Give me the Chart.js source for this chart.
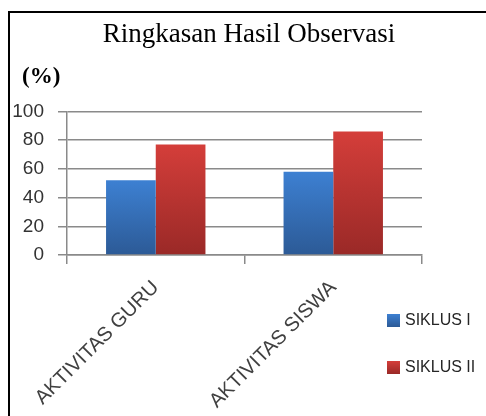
<!DOCTYPE html>
<html>
<head>
<meta charset="utf-8">
<script src="https://cdn.jsdelivr.net/npm/chart.js@4.4.1/dist/chart.umd.min.js"></script>
<style>
  html, body { margin: 0; padding: 0; background: #fff; overflow: hidden; }
  body { width: 486px; height: 416px; position: relative; }
  #frame {
    position: absolute; left: 8px; top: 11px; width: 478px; height: 405px;
    border-left: 2px solid #000; border-top: 2px solid #000; box-sizing: border-box;
  }
  #chart { position: absolute; left: 0; top: 0; }
  #unit { position: absolute; left: 12px; top: 50px; font: bold 23px 'Liberation Serif', serif; color: #000; }
  #legend { position: absolute; left: 377px; top: 297px; margin: 0; padding: 0; list-style: none; }
  #legend li { display: flex; align-items: center; height: 20px; margin-bottom: 27px;
    font: 16px 'Liberation Sans', sans-serif; color: #262626; white-space: nowrap; }
  #legend span.box { display: inline-block; width: 13px; height: 13px; margin-right: 5px; }
</style>
</head>
<body>
<div id="frame">
  <canvas id="chart" width="476" height="403"></canvas>
  <div id="unit">(%)</div>
  <ul id="legend"></ul>
</div>
<script>
const categories = ['AKTIVITAS GURU', 'AKTIVITAS SISWA'];
const seriesNames = ['SIKLUS I', 'SIKLUS II'];
const siklus1 = [52, 58];
const siklus2 = [77, 86];
const yTicks = [0, 20, 40, 60, 80, 100];

const blueTop = '#3d80d2', blueBottom = '#2c5a96';
const redTop = '#d43e3a', redBottom = '#9a2927';
const gridColor = '#8a8a8a';

// gradient per bar, top to bottom of the bar
function barGradient(top, bottom) {
  return function (context) {
    const chart = context.chart;
    if (!chart.chartArea || context.raw === undefined) return top;
    const y = chart.scales.y;
    const g = chart.ctx.createLinearGradient(0, y.getPixelForValue(context.raw), 0, y.getPixelForValue(0));
    g.addColorStop(0, top);
    g.addColorStop(1, bottom);
    return g;
  };
}

const htmlLegend = {
  id: 'htmlLegend',
  afterUpdate(chart) {
    const ul = document.getElementById('legend');
    ul.innerHTML = '';
    chart.data.datasets.forEach(function (ds) {
      const li = document.createElement('li');
      const box = document.createElement('span');
      box.className = 'box';
      box.style.background = 'linear-gradient(' + ds.swatch[0] + ',' + ds.swatch[1] + ')';
      li.appendChild(box);
      li.appendChild(document.createTextNode(ds.label));
      ul.appendChild(li);
    });
  }
};

const ctx = document.getElementById('chart').getContext('2d');
new Chart(ctx, {
  type: 'bar',
  data: {
    labels: categories,
    datasets: [
      { label: seriesNames[0], data: siklus1, swatch: [blueTop, blueBottom],
        backgroundColor: barGradient(blueTop, blueBottom) },
      { label: seriesNames[1], data: siklus2, swatch: [redTop, redBottom],
        backgroundColor: barGradient(redTop, redBottom) }
    ]
  },
  options: {
    responsive: false,
    maintainAspectRatio: false,
    animation: false,
    categoryPercentage: 0.56,
    barPercentage: 1.0,
    layout: { padding: { left: 2, right: 0, top: 0, bottom: 0 } },
    plugins: {
      legend: { display: false },
      tooltip: { enabled: false },
      title: {
        display: true,
        text: 'Ringkasan Hasil Observasi',
        color: '#000',
        font: { family: "'Liberation Serif', serif", size: 27, weight: 'normal' },
        padding: { top: 6, bottom: 60 }
      }
    },
    scales: {
      x: {
        grid: { offset: true, drawOnChartArea: false, drawTicks: true, tickLength: 9, color: gridColor, lineWidth: 1.5 },
        border: { color: gridColor, width: 1.5 },
        ticks: {
          maxRotation: 45, minRotation: 45, autoSkip: false, padding: 12,
          color: '#404040', font: { family: "'Liberation Sans', sans-serif", size: 20 }
        },
        // the legend sits under the plot in the original, so keep room on the right only
        afterFit: function (scale) {
          scale.paddingLeft = 0;
          scale.paddingRight = 64;
          scale.height = 161;
        }
      },
      y: {
        min: 0, max: 100,
        afterBuildTicks: function (scale) { scale.ticks = yTicks.map(v => ({ value: v })); },
        afterFit: function (scale) { scale.width = 55; },
        grid: { color: gridColor, lineWidth: 1.5, tickLength: 9 },
        border: { color: gridColor, width: 1.5 },
        ticks: {
          padding: 14, color: '#333',
          font: { family: "'Liberation Sans', sans-serif", size: 19 }
        }
      }
    }
  },
  plugins: [htmlLegend]
});
</script>
</body>
</html>
